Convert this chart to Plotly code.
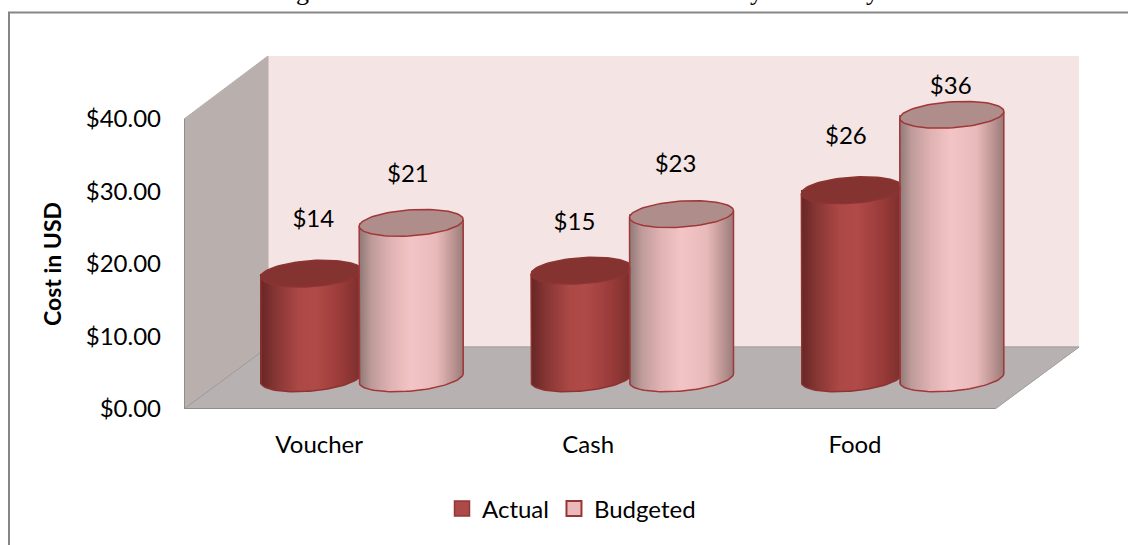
import numpy as np
import plotly.graph_objects as go

# ---- data ----
categories = ["Voucher", "Cash", "Food"]
actual = [14.4, 14.8, 25.9]
budgeted = [21.4, 22.6, 36.3]
y_ticks = [0, 10, 20, 30, 40]
y_tick_labels = ["$0.00", "$10.00", "$20.00", "$30.00", "$40.00"]
# how far each data label sits above its cylinder top ($) and sideways (category units)
label_lift_actual = [7.3, 6.5, 7.2]
label_lift_budgeted = [6.5, 6.6, 3.65]
label_shift_actual = [0.008, -0.026, -0.022]
label_shift_budgeted = [-0.012, -0.022, -0.004]

# ---- layout geometry (pixels of the 1128x545 page) ----
W, H = 1128, 545
L, R, T, B = 184, 1079, 56, 409
PX_X = (995 - 184) / 3      # px per category
PX_Y = (409 - 119) / 40     # px per dollar
DX = 84 / PX_X              # depth offset in x units
DY = 62 / PX_Y              # depth offset in y units
X0, Y0 = -0.5, 0.0
X1 = X0 + (R - L) / PX_X
Y1 = (B - T) / PX_Y
CYL_A = 52 / PX_X           # half width
CYL_B = 13 / PX_Y           # half height of the ellipse
GAP = 50 / PX_X             # cylinder centre offset from group centre
TILT_TOP = (6.7 / 104) * PX_X / PX_Y
TILT_BOT = (9 / 104) * PX_X / PX_Y


def gradient(stops, t):
    pos = [s[0] for s in stops]
    cols = np.array([s[1] for s in stops], float)
    return ["rgb(%d,%d,%d)" % tuple(np.interp(v, pos, cols[:, i]) for i in range(3)) for v in t]


ACTUAL_STOPS = [(0, (104, 38, 37)), (0.15, (134, 54, 52)), (0.38, (172, 72, 70)), (0.55, (176, 75, 73)),
                (0.8, (155, 60, 58)), (1, (122, 47, 45))]
BUDGET_STOPS = [(0, (140, 120, 118)), (0.12, (190, 155, 154)), (0.3, (224, 178, 178)), (0.5, (244, 197, 198)),
                (0.75, (232, 186, 186)), (0.9, (190, 150, 148)), (1, (154, 125, 123))]


def cylinder(cx, value, half, stops, cap, edge, clip_right=None):
    floor_y = DY / 2
    top_y = floor_y + value
    n = int(round(2 * half * PX_X))
    xs = cx - half + (np.arange(n) + 0.5) * (2 * half / n)
    u = (xs - cx) / half
    bottom = floor_y + TILT_BOT * (xs - cx) - CYL_B * np.sqrt(1 - u ** 2)
    colors = gradient(stops, (u + 1) / 2)
    traces = [go.Bar(x=xs, y=top_y - bottom, base=bottom, width=2 * half / n,
                     marker=dict(color=colors, line=dict(width=0)),
                     showlegend=False, hoverinfo="skip")]
    t = np.linspace(0, 2 * np.pi, 90)
    ex = cx + half * np.cos(t)
    ey = top_y + TILT_TOP * half * np.cos(t) + CYL_B * np.sin(t)
    if clip_right is not None:
        ex = np.minimum(ex, clip_right)
    traces.append(go.Scatter(x=ex, y=ey, mode="lines", fill="toself", fillcolor=cap,
                             line=dict(color=edge, width=1.5), showlegend=False, hoverinfo="skip"))
    # side outline and lower rim
    tb = np.linspace(np.pi, 2 * np.pi, 50)
    ox = cx + half * np.cos(tb)
    oy = floor_y + TILT_BOT * half * np.cos(tb) + CYL_B * np.sin(tb)
    ox = np.concatenate([[cx - half], ox, [cx + half]])
    oy = np.concatenate([[top_y + TILT_TOP * -half], oy, [top_y + TILT_TOP * half]])
    if clip_right is not None:
        ox = np.minimum(ox, clip_right)
    traces.append(go.Scatter(x=ox, y=oy, mode="lines", line=dict(color=edge, width=1.5),
                             showlegend=False, hoverinfo="skip"))
    return traces


fig = go.Figure()
for i in range(len(categories)):
    gc = i + DX / 2
    for tr in cylinder(gc - GAP, actual[i], CYL_A * 0.97, ACTUAL_STOPS, "#843331", "#8C3432",
                       clip_right=gc + GAP - CYL_A):
        fig.add_trace(tr)
    for tr in cylinder(gc + GAP, budgeted[i], CYL_A, BUDGET_STOPS, "#AF8D8A", "#A03739"):
        fig.add_trace(tr)

# data labels
lx, ly, lt = [], [], []
for i in range(len(categories)):
    gc = i + DX / 2
    lx += [gc - GAP + label_shift_actual[i], gc + GAP + label_shift_budgeted[i]]
    ly += [DY / 2 + actual[i] + label_lift_actual[i], DY / 2 + budgeted[i] + label_lift_budgeted[i]]
    lt += ["$%.0f" % actual[i], "$%.0f" % budgeted[i]]
fig.add_trace(go.Scatter(x=lx, y=ly, text=lt, mode="text", textposition="middle center",
                         textfont=dict(family="Lato", size=24, color="#000000"),
                         showlegend=False, hoverinfo="skip"))

# legend entries
fig.add_trace(go.Scatter(x=[None], y=[None], mode="markers", name="Actual",
                         marker=dict(symbol="square", size=15, color="#AB4A48",
                                     line=dict(color="#953735", width=1.5))))
fig.add_trace(go.Scatter(x=[None], y=[None], mode="markers", name="Budgeted",
                         marker=dict(symbol="square", size=15, color="#EBB9B9",
                                     line=dict(color="#953735", width=2))))


def poly(points, fill, line=None, width=1):
    path = "M" + "L".join("%.4f,%.4f" % p for p in points) + "Z"
    return dict(type="path", xref="x", yref="y", path=path, fillcolor=fill, layer="below",
                line=dict(color=line or fill, width=width))


def px_x(px):
    return (px - L) / (R - L)


def px_y(py):
    return (B - py) / (B - T)


xl, xr = X0, X0 + 3
ymax = y_ticks[-1]
AXIS = "#8E8E8E"
shapes = [
    # outer frame, runs off the page at right and bottom
    dict(type="rect", xref="paper", yref="paper", x0=px_x(9), x1=px_x(1140),
         y0=px_y(560), y1=px_y(12.5), line=dict(color="#868686", width=2),
         fillcolor="#FFFFFF", layer="below"),
    poly([(xl + DX, DY), (xr + DX, DY), (xr + DX, Y1), (xl + DX, Y1)], "#F4E4E4"),
    poly([(xl, 0), (xl + DX, DY), (xl + DX, Y1), (xl, ymax)], "#B9B0AE"),
    poly([(xl, 0), (xr, 0), (xr + DX, DY), (xl + DX, DY)], "#B7B1B1"),
    dict(type="line", xref="x", yref="y", x0=xl, y0=0, x1=xl + DX, y1=DY, line=dict(color="#9A9A9A", width=1), layer="below"),
    dict(type="line", xref="x", yref="y", x0=xl + DX, y0=DY, x1=xr + DX, y1=DY, line=dict(color="#A5A0A0", width=1), layer="below"),
    dict(type="line", xref="x", yref="y", x0=xr, y0=0, x1=xr + DX, y1=DY, line=dict(color="#A5A0A0", width=1), layer="below"),
    dict(type="line", xref="x", yref="y", x0=xl, y0=0, x1=xr, y1=0, line=dict(color=AXIS, width=2), layer="below"),
    dict(type="line", xref="x", yref="y", x0=xl, y0=0, x1=xl, y1=ymax, line=dict(color=AXIS, width=2), layer="below"),
]

FONT = "Lato"
# the caption above the chart is cut off by the top of the picture: only these descenders show
annotations = [dict(text=c, xref="paper", yref="paper", x=px_x(px), y=px_y(8),
                    xanchor="center", yanchor="bottom", showarrow=False,
                    font=dict(family="Liberation Serif", size=26, color="#000000"))
               for c, px in [("g", 302), ("y", 756), ("y", 872)]]
# axis title, centred on the $0-$40 part of the axis
annotations.append(dict(text="<b>Cost in USD</b>", xref="paper", yref="y", x=px_x(52), y=ymax / 2,
                        xanchor="center", yanchor="middle", textangle=-90, showarrow=False,
                        font=dict(family=FONT, size=23, color="#000000")))

fig.update_layout(
    width=W, height=H, autosize=False, barmode="overlay", bargap=0,
    margin=dict(l=L, r=W - R, t=T, b=H - B, pad=0),
    paper_bgcolor="#FFFFFF", plot_bgcolor="rgba(0,0,0,0)",
    font=dict(family=FONT, size=24, color="#000000"),
    shapes=shapes, annotations=annotations,
    hovermode=False,
    xaxis=dict(range=[X0, X1], tickmode="array", tickvals=[0, 0.995, 1.982], ticktext=categories,
               showgrid=False, zeroline=False, showline=False, ticks="", ticklabelstandoff=19,
               tickfont=dict(family=FONT, size=24), automargin=False),
    yaxis=dict(range=[Y0, Y1], tickmode="array", tickvals=y_ticks, ticktext=y_tick_labels,
               showgrid=False, zeroline=False, showline=False, ticks="", ticklabelstandoff=22,
               tickfont=dict(family=FONT, size=24), automargin=False),
    legend=dict(orientation="h", x=px_x(442), y=px_y(509), xanchor="left", yanchor="middle",
                bgcolor="rgba(0,0,0,0)", font=dict(family=FONT, size=24), itemclick=False, itemdoubleclick=False),
)
fig.write_html("out.html", config=dict(displayModeBar=False),
               post_script="document.body.style.margin='0';document.body.style.overflow='hidden';")
